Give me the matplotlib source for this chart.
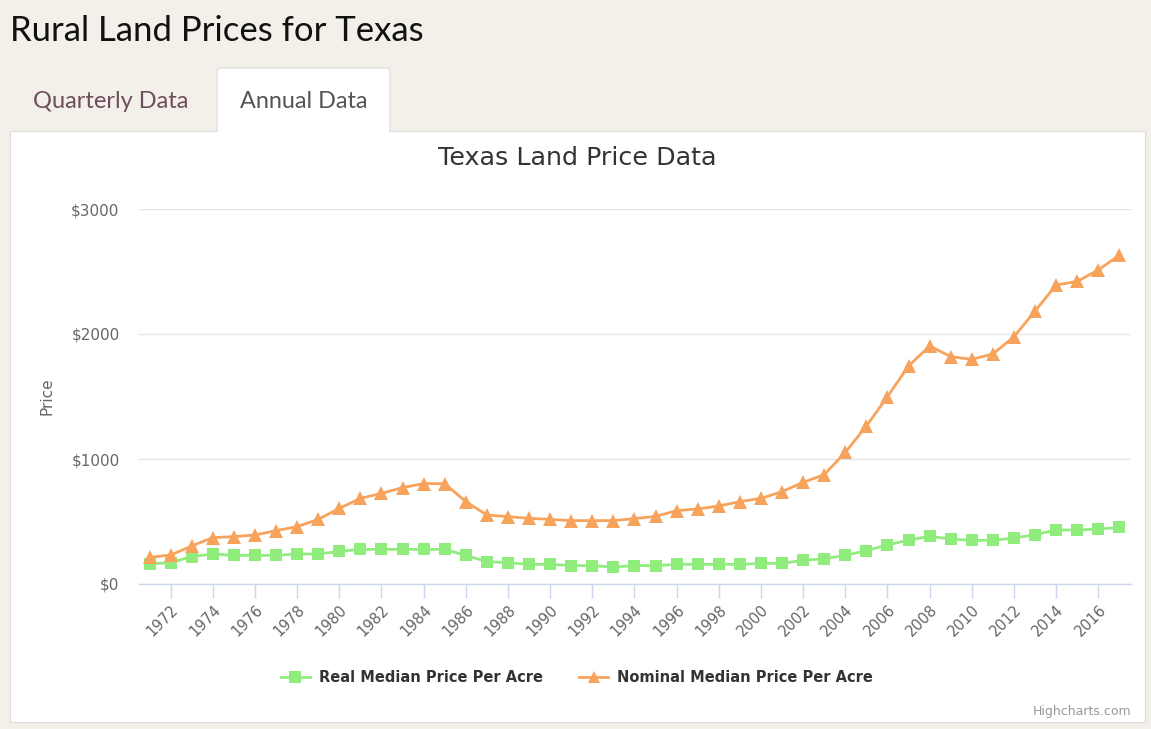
import matplotlib
matplotlib.use("Agg")
import matplotlib.pyplot as plt
from matplotlib.patches import Rectangle, FancyBboxPatch
from matplotlib.lines import Line2D

years = list(range(1971, 2018))
real_price = [160, 171, 219, 240, 229, 229, 229, 240, 240, 261, 277, 277, 277, 277, 277, 229,
              179, 171, 157, 157, 147, 147, 136, 147, 147, 157, 157, 157, 157, 165, 165, 190,
              202, 229, 267, 312, 352, 381, 360, 349, 349, 368, 395, 432, 432, 440, 453]
nominal_price = [213, 232, 304, 371, 379, 392, 427, 459, 517, 605, 685, 725, 771, 803, 803, 659,
                 552, 539, 525, 517, 507, 507, 507, 523, 541, 587, 600, 624, 659, 685, 739, 813,
                 875, 1053, 1264, 1499, 1744, 1904, 1819, 1797, 1840, 1978, 2184, 2392, 2421, 2512, 2632]
tick_years = list(range(1972, 2017, 2))
y_ticks = [0, 1000, 2000, 3000]
y_labels = ["$0", "$1000", "$2000", "$3000"]

W, H = 1151, 729
fig = plt.figure(figsize=(W / 100, H / 100), dpi=100)
fig.patch.set_facecolor("#f3f0e9")

def px(x, y):
    return x / W, 1 - y / H

# white panel
fig.patches.append(Rectangle(px(10, 722), (1145 - 10) / W, (722 - 131) / H,
                             transform=fig.transFigure, facecolor="white",
                             edgecolor="#dddddd", linewidth=0.8, zorder=0))
# active tab
fig.patches.append(FancyBboxPatch(px(217, 132), (390 - 217) / W, (132 - 68) / H,
                                  boxstyle="round,pad=0,rounding_size=0.004",
                                  transform=fig.transFigure, facecolor="white",
                                  edgecolor="#dddddd", linewidth=0.8, zorder=1))
fig.patches.append(Rectangle(px(218, 133), (389 - 218) / W, 4 / H,
                             transform=fig.transFigure, facecolor="white",
                             edgecolor="none", zorder=2))

fig.text(*px(10, 31), "Rural Land Prices for Texas", fontsize=25, family="Lato",
         color="#111111", va="center", ha="left")
fig.text(*px(111, 101), "Quarterly Data", fontsize=17, family="Lato",
         color="#6e4d5d", va="center", ha="center")
fig.text(*px(304, 101), "Annual Data", fontsize=16.8, family="Lato",
         color="#555555", va="center", ha="center", zorder=3)
fig.text(*px(577, 158), "Texas Land Price Data", fontsize=18.3, family="DejaVu Sans",
         color="#333333", va="center", ha="center")

l, r, t, b = 139, 1131, 209, 584
ax = fig.add_axes([l / W, 1 - b / H, (r - l) / W, (b - t) / H])
ax.set_zorder(10)
ax.set_facecolor("none")
ax.plot(years, real_price, color="#90ed7d", lw=2, marker="s", ms=8.5,
        markeredgewidth=0, label="Real Median Price Per Acre", zorder=3)
ax.plot(years, nominal_price, color="#f7a35c", lw=2, marker="^", ms=9.5,
        markeredgewidth=0, label="Nominal Median Price Per Acre", zorder=4)
ax.set_xlim(1970.5, 2017.55)
ax.set_ylim(0, 3000)
ax.set_yticks(y_ticks)
ax.set_yticklabels(y_labels)
ax.set_xticks(tick_years)
ax.set_xticklabels([str(y) for y in tick_years], rotation=45, ha="right",
                   rotation_mode="anchor")
ax.grid(axis="y", color="#e6e6e6", lw=1)
ax.set_axisbelow(True)
for s in ["top", "right", "left"]:
    ax.spines[s].set_visible(False)
ax.spines["bottom"].set_color("#ccd6eb")
ax.spines["bottom"].set_linewidth(1)
ax.tick_params(axis="x", colors="#666666", length=10, width=1, color="#ccd6eb",
               labelsize=10.5, pad=3)
ax.tick_params(axis="y", colors="#666666", length=0, labelsize=11, pad=14)
ax.set_ylabel("Price", color="#666666", fontsize=11, labelpad=12)

handles = [Line2D([0], [0], color="#90ed7d", lw=2, marker="s", ms=8, markeredgewidth=0),
           Line2D([0], [0], color="#f7a35c", lw=2, marker="^", ms=8, markeredgewidth=0)]
fig.legend(handles, ["Real Median Price Per Acre", "Nominal Median Price Per Acre"],
           loc="center", bbox_to_anchor=px(577, 678), ncol=2, frameon=False,
           prop={"weight": "bold", "size": 10.5}, labelcolor="#333333",
           handlelength=2.0, columnspacing=2.5, handletextpad=0.6)
fig.text(*px(1131, 711), "Highcharts.com", fontsize=9, color="#999999",
         ha="right", va="center")

fig.savefig("out.png", dpi=100, facecolor=fig.get_facecolor())
